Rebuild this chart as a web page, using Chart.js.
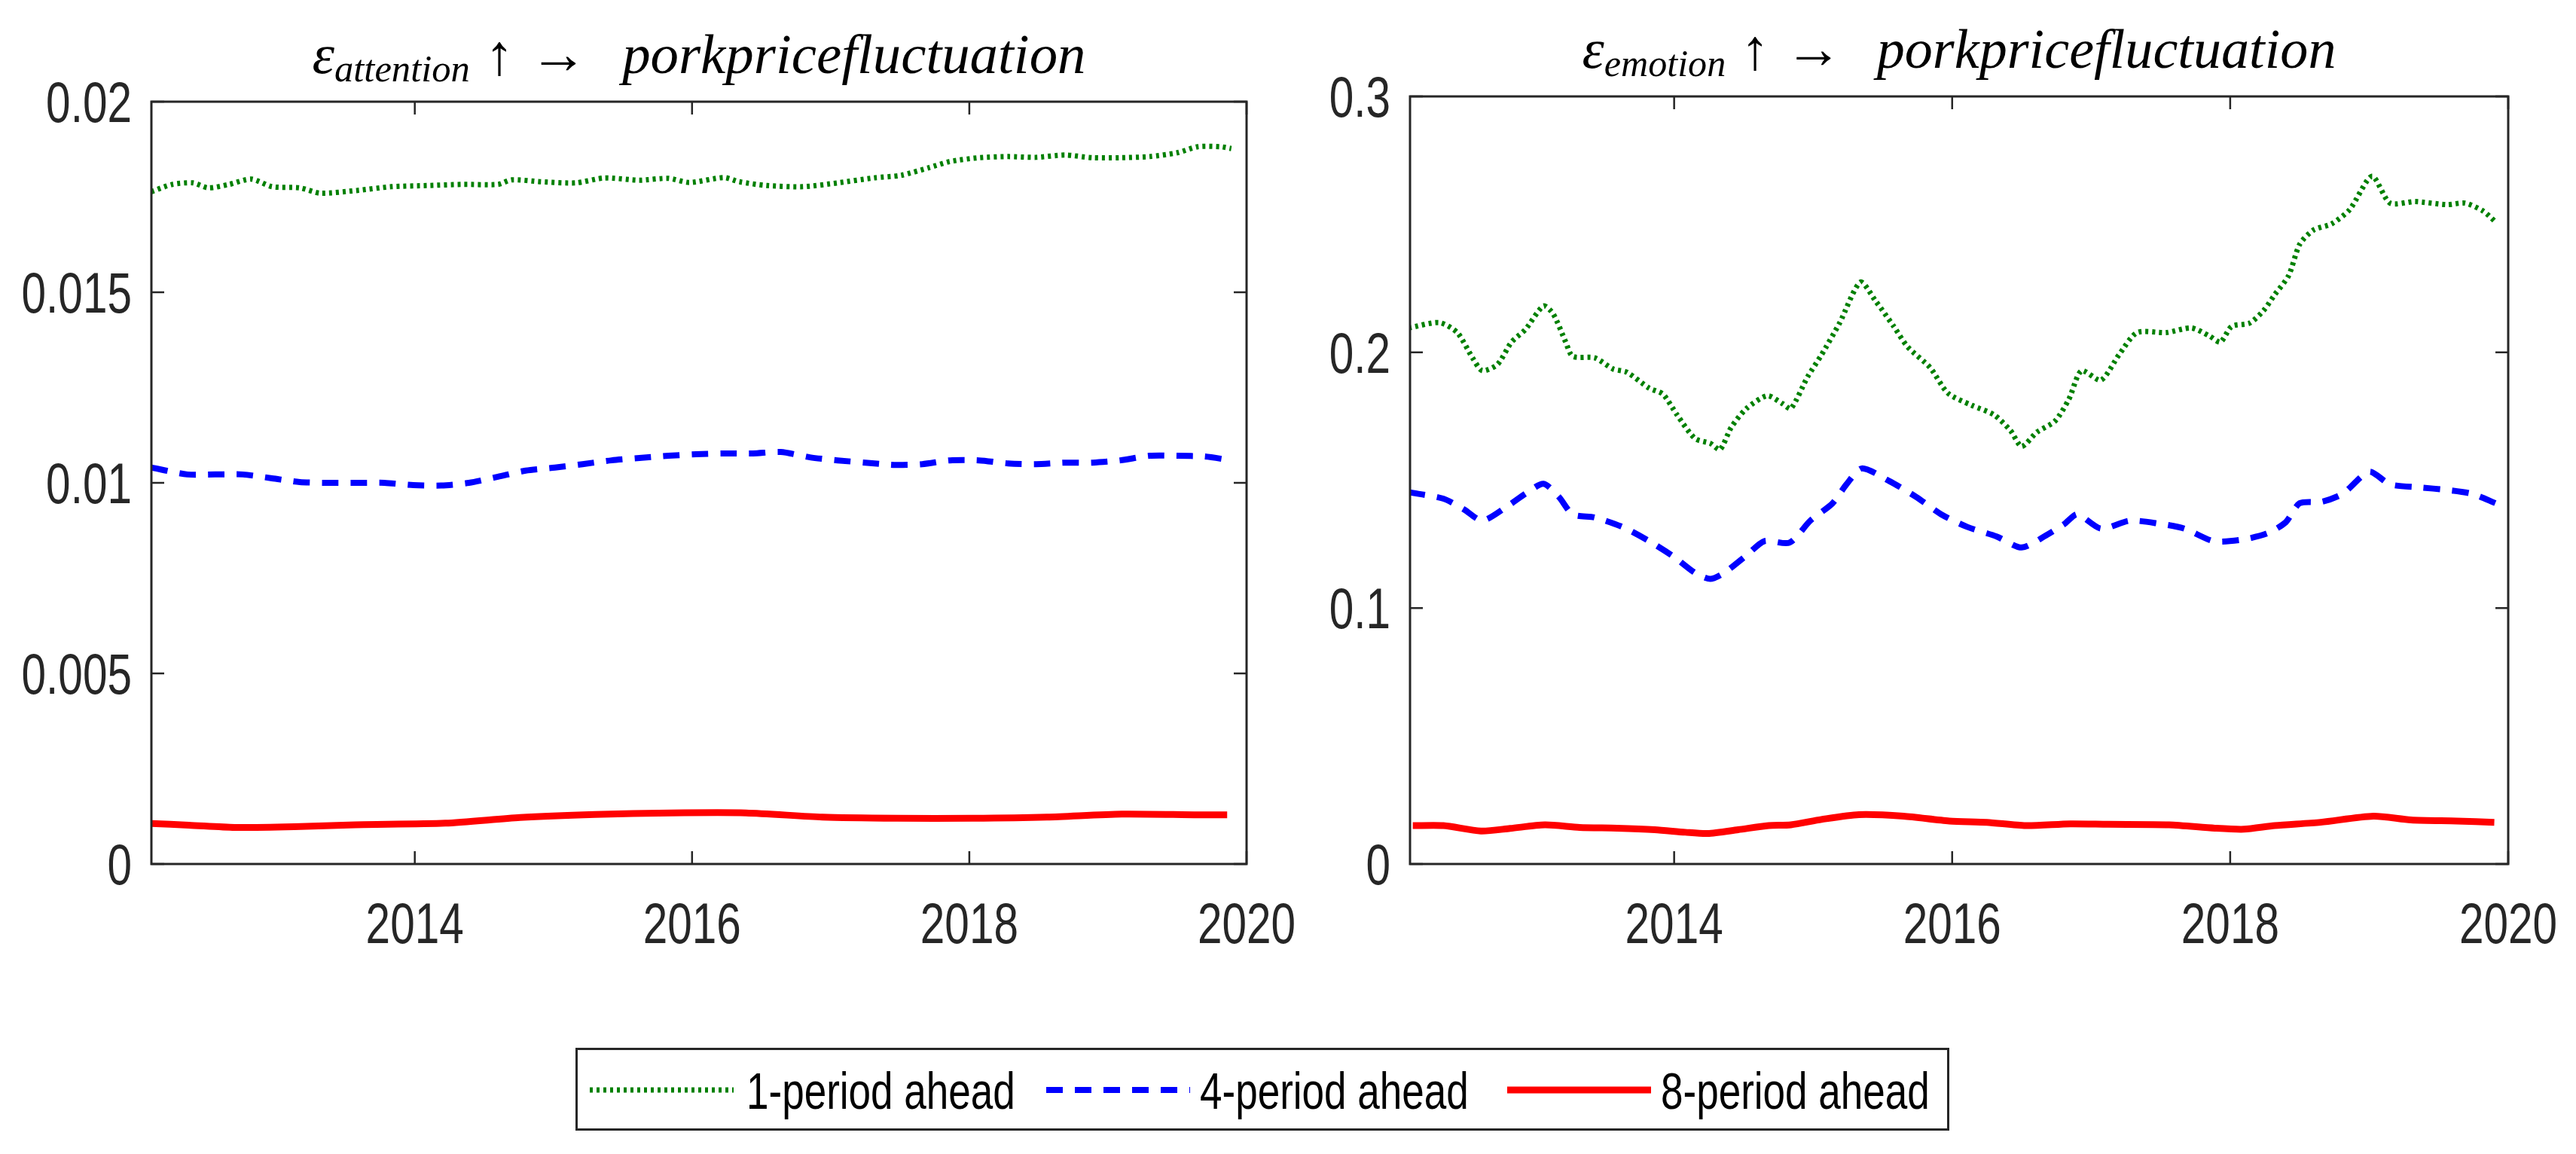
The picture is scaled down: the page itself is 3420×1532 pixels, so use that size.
<!DOCTYPE html>
<html>
<head>
<meta charset="utf-8">
<script src="https://cdn.jsdelivr.net/npm/chart.js@4.4.1/dist/chart.umd.min.js"></script>
<style>
  html, body { margin: 0; padding: 0; background: #fff; width: 3420px; height: 1532px; overflow: hidden; }
  canvas { position: absolute; top: 0; }
  #chartAttention { left: 0; }
  #chartEmotion { left: 1750px; }
  #legendBox { position: absolute; left: 764px; top: 1391px; width: 1824px; height: 110px;
               box-sizing: border-box; border: 3px solid #262626; background: #fff; }
  .lg-line { position: absolute; top: 1437px; }
  .lg-text { position: absolute; top: 1414px; font-family: "Liberation Sans", Arial, sans-serif;
             font-size: 68px; line-height: 68px; color: #000; white-space: nowrap;
             transform: scaleX(0.78); transform-origin: 0 0; }
</style>
</head>
<body>
<canvas id="chartAttention" width="1750" height="1300"></canvas>
<canvas id="chartEmotion" width="1670" height="1300"></canvas>
<div id="legendBox"></div>
<div id="legendItems"></div>
<script>
// ---- data ----
const seriesLabels = ['1-period ahead', '4-period ahead', '8-period ahead'];
const seriesColors = ['#008000', '#0000ff', '#ff0000'];

const xTickValues = [2014, 2016, 2018, 2020];
const xTickLabels = ['2014', '2016', '2018', '2020'];
const xMin = 2012.1, xMax = 2020;

const attnYTicks = [0, 0.005, 0.01, 0.015, 0.02];
const attnYLabels = ['0', '0.005', '0.01', '0.015', '0.02'];
const emoYTicks = [0, 0.1, 0.2, 0.3];
const emoYLabels = ['0', '0.1', '0.2', '0.3'];

// attention, 1-period ahead
const attnX1 = [2012.10, 2012.25, 2012.40, 2012.51, 2012.66, 2012.82, 2012.97, 2013.17, 2013.32, 2013.58,
                2013.83, 2014.09, 2014.35, 2014.60, 2014.70, 2014.91, 2015.16, 2015.37, 2015.62, 2015.83,
                2015.98, 2016.23, 2016.34, 2016.54, 2016.80, 2017.05, 2017.31, 2017.51, 2017.71, 2017.86,
                2018.07, 2018.28, 2018.48, 2018.69, 2018.89, 2019.09, 2019.30, 2019.50, 2019.65, 2019.81, 2019.89];
const attnY1 = [0.01764, 0.01783, 0.01787, 0.01774, 0.01783, 0.01797, 0.01777, 0.01774, 0.01760, 0.01767,
                0.01777, 0.01780, 0.01783, 0.01783, 0.01795, 0.01790, 0.01787, 0.01800, 0.01794, 0.01799,
                0.01788, 0.01801, 0.01790, 0.01780, 0.01777, 0.01787, 0.01800, 0.01807, 0.01827, 0.01843,
                0.01853, 0.01856, 0.01854, 0.01860, 0.01853, 0.01853, 0.01856, 0.01866, 0.01882, 0.01882, 0.01877];
// attention, 4-period ahead
const attnX4 = [2012.10, 2012.36, 2012.56, 2012.76, 2012.97, 2013.17, 2013.37, 2013.58, 2013.78, 2013.99,
                2014.19, 2014.39, 2014.60, 2014.80, 2015.01, 2015.21, 2015.42, 2015.62, 2015.83, 2016.03,
                2016.23, 2016.44, 2016.64, 2016.85, 2017.05, 2017.25, 2017.46, 2017.66, 2017.86, 2018.07,
                2018.28, 2018.48, 2018.69, 2018.89, 2019.09, 2019.30, 2019.50, 2019.70, 2019.89];
const attnY4 = [0.01040, 0.01022, 0.01022, 0.01022, 0.01012, 0.01002, 0.01000, 0.01000, 0.01000, 0.00994,
                0.00993, 0.01000, 0.01016, 0.01032, 0.01040, 0.01049, 0.01059, 0.01065, 0.01071, 0.01075,
                0.01077, 0.01077, 0.01081, 0.01067, 0.01059, 0.01053, 0.01047, 0.01049, 0.01059, 0.01059,
                0.01051, 0.01049, 0.01053, 0.01053, 0.01059, 0.01071, 0.01071, 0.01069, 0.01059];
// attention, 8-period ahead
const attnX8 = [2012.10, 2012.37, 2012.70, 2013.13, 2013.57, 2014.22, 2014.76, 2015.30, 2015.85, 2016.39,
                2016.94, 2017.48, 2018.02, 2018.56, 2019.10, 2019.65, 2019.86];
const attnY8 = [0.00106, 0.00102, 0.00096, 0.00098, 0.00103, 0.00107, 0.00122, 0.00130, 0.00134, 0.00134,
                0.00123, 0.00120, 0.00120, 0.00123, 0.00131, 0.00129, 0.00129];

// emotion, 1-period ahead
const emoX1 = [2012.09, 2012.31, 2012.44, 2012.55, 2012.62, 2012.73, 2012.83, 2012.93, 2013.06, 2013.13,
               2013.22, 2013.27, 2013.43, 2013.56, 2013.66, 2013.82, 2013.92, 2014.02, 2014.15, 2014.26,
               2014.33, 2014.41, 2014.52, 2014.67, 2014.78, 2014.84, 2014.96, 2015.06, 2015.19, 2015.34,
               2015.45, 2015.58, 2015.68, 2015.84, 2015.97, 2016.14, 2016.30, 2016.42, 2016.50, 2016.61,
               2016.74, 2016.84, 2016.93, 2017.07, 2017.20, 2017.33, 2017.54, 2017.72, 2017.85, 2017.93,
               2018.01, 2018.14, 2018.24, 2018.32, 2018.42, 2018.50, 2018.60, 2018.73, 2018.86, 2019.02,
               2019.15, 2019.33, 2019.56, 2019.69, 2019.82, 2019.91];
const emoY1 = [0.2095, 0.2116, 0.2077, 0.1978, 0.1928, 0.1953, 0.2040, 0.2089, 0.2181, 0.2150,
               0.2040, 0.1984, 0.1978, 0.1935, 0.1922, 0.1860, 0.1836, 0.1756, 0.1663, 0.1644,
               0.1620, 0.1706, 0.1780, 0.1830, 0.1799, 0.1780, 0.1904, 0.1990, 0.2114, 0.2274,
               0.2200, 0.2101, 0.2021, 0.1941, 0.1840, 0.1793, 0.1756, 0.1694, 0.1632, 0.1688,
               0.1731, 0.1817, 0.1928, 0.1891, 0.1990, 0.2077, 0.2077, 0.2095, 0.2064, 0.2040,
               0.2101, 0.2114, 0.2163, 0.2225, 0.2299, 0.2422, 0.2478, 0.2502, 0.2558, 0.2688,
               0.2583, 0.2589, 0.2577, 0.2583, 0.2552, 0.2509];
// emotion, 4-period ahead
const emoX4 = [2012.09, 2012.34, 2012.49, 2012.62, 2012.80, 2012.93, 2013.06, 2013.17, 2013.27, 2013.43,
               2013.63, 2013.82, 2014.00, 2014.15, 2014.26, 2014.36, 2014.52, 2014.65, 2014.83, 2014.98,
               2015.14, 2015.24, 2015.35, 2015.55, 2015.74, 2015.92, 2016.11, 2016.32, 2016.50, 2016.68,
               2016.81, 2016.90, 2017.07, 2017.28, 2017.49, 2017.67, 2017.88, 2018.09, 2018.27, 2018.40,
               2018.50, 2018.66, 2018.81, 2019.00, 2019.15, 2019.36, 2019.56, 2019.74, 2019.91];
const emoY4 = [0.1453, 0.1428, 0.1385, 0.1342, 0.1398, 0.1447, 0.1486, 0.1435, 0.1367, 0.1354,
               0.1317, 0.1262, 0.1200, 0.1138, 0.1114, 0.1138, 0.1206, 0.1262, 0.1256, 0.1342,
               0.1410, 0.1484, 0.1546, 0.1496, 0.1435, 0.1367, 0.1317, 0.1280, 0.1237, 0.1286,
               0.1330, 0.1367, 0.1311, 0.1342, 0.1330, 0.1311, 0.1262, 0.1268, 0.1293, 0.1336,
               0.1410, 0.1416, 0.1447, 0.1533, 0.1484, 0.1472, 0.1462, 0.1447, 0.1410];
// emotion, 8-period ahead
const emoX8 = [2012.12, 2012.34, 2012.61, 2012.82, 2013.07, 2013.32, 2013.59, 2013.86, 2014.08, 2014.24,
               2014.46, 2014.68, 2014.84, 2015.06, 2015.33, 2015.65, 2015.98, 2016.25, 2016.53, 2016.85,
               2017.12, 2017.56, 2017.89, 2018.10, 2018.32, 2018.65, 2019.03, 2019.30, 2019.63, 2019.90];
const emoY8 = [0.0150, 0.0150, 0.0129, 0.0139, 0.0153, 0.0143, 0.0140, 0.0134, 0.0124, 0.0119,
               0.0134, 0.0150, 0.0153, 0.0174, 0.0193, 0.0187, 0.0168, 0.0163, 0.0150, 0.0157,
               0.0155, 0.0153, 0.0140, 0.0136, 0.0150, 0.0163, 0.0187, 0.0172, 0.0168, 0.0163];

// ---- styling ----
const axisColor = '#262626';
const tickFont = '76px "Liberation Sans", Arial, sans-serif';
const tickSquash = 0.77;   // the tick labels in the figure are horizontally condensed
const lineStyles = [
  { width: 7, dash: [4, 5] },
  { width: 8, dash: [22, 16] },
  { width: 9, dash: [] }
];

const pairUp = (xs, ys) => xs.map((x, i) => ({ x: x, y: ys[i] }));

// box around the plot, inward MATLAB style ticks and condensed tick labels
const boxPlugin = {
  id: 'matBox',
  afterDraw(chart, args, opts) {
    const { ctx, chartArea: a, scales: { x, y } } = chart;
    const L = 17;
    ctx.save();
    ctx.strokeStyle = axisColor;
    ctx.lineWidth = 2.5;
    ctx.beginPath();
    x.ticks.forEach(t => {
      const px = x.getPixelForValue(t.value);
      ctx.moveTo(px, a.bottom); ctx.lineTo(px, a.bottom - L);
      ctx.moveTo(px, a.top); ctx.lineTo(px, a.top + L);
    });
    y.ticks.forEach(t => {
      const py = y.getPixelForValue(t.value);
      ctx.moveTo(a.left, py); ctx.lineTo(a.left + L, py);
      ctx.moveTo(a.right, py); ctx.lineTo(a.right - L, py);
    });
    ctx.stroke();
    ctx.lineWidth = 3;
    ctx.strokeRect(a.left, a.top, a.right - a.left, a.bottom - a.top);

    ctx.fillStyle = axisColor;
    ctx.font = tickFont;
    ctx.textBaseline = 'alphabetic';
    x.ticks.forEach((t, i) => {
      const px = x.getPixelForValue(t.value);
      ctx.save();
      ctx.translate(px, a.bottom + 105);
      ctx.scale(tickSquash, 1);
      ctx.textAlign = 'center';
      ctx.fillText(xTickLabels[i], 0, 0);
      ctx.restore();
    });
    y.ticks.forEach((t, i) => {
      const py = y.getPixelForValue(t.value);
      ctx.save();
      ctx.translate(a.left - 26, py + 27);
      ctx.scale(tickSquash, 1);
      ctx.textAlign = 'right';
      ctx.fillText(opts.yLabels[i], 0, 0);
      ctx.restore();
    });
    ctx.restore();
  }
};

// title with subscript: eps_sub ↑→ porkpricefluctuation
const titlePlugin = {
  id: 'mathTitle',
  afterDraw(chart, args, opts) {
    const { ctx, chartArea: a } = chart;
    const serif = '"Liberation Serif", "DejaVu Serif", serif';
    const parts = [
      { t: 'ε', font: `italic 74px ${serif}`, dy: 0, gap: 0 },
      { t: opts.sub, font: `italic 50px ${serif}`, dy: 11, gap: 0 },
      { t: '↑', font: `76px ${serif}`, dy: 2, gap: 20 },
      { t: '→', font: `76px ${serif}`, dy: 0, gap: 20 },
      { t: 'porkpricefluctuation', font: `italic 74px ${serif}`, dy: 0, gap: 46 }
    ];
    ctx.save();
    let total = 0;
    parts.forEach(p => { ctx.font = p.font; p.w = ctx.measureText(p.t).width; total += p.gap + p.w; });
    const sx = opts.width / total;
    const cx = (a.left + a.right) / 2;
    ctx.translate(cx - opts.width / 2, opts.baseline);
    ctx.scale(sx, 1);
    ctx.fillStyle = '#000';
    ctx.textBaseline = 'alphabetic';
    let xPos = 0;
    parts.forEach(p => {
      xPos += p.gap;
      ctx.font = p.font;
      ctx.fillText(p.t, xPos, p.dy);
      xPos += p.w;
    });
    ctx.restore();
  }
};

function makeChart(id, cfg) {
  const datasets = cfg.series.map((s, i) => ({
    label: seriesLabels[i],
    data: pairUp(s[0], s[1]),
    borderColor: seriesColors[i],
    borderWidth: lineStyles[i].width,
    borderDash: lineStyles[i].dash,
    borderCapStyle: 'butt',
    pointRadius: 0,
    tension: 0.25,
    fill: false
  }));
  return new Chart(document.getElementById(id), {
    type: 'line',
    data: { datasets: datasets },
    options: {
      responsive: false,
      animation: false,
      devicePixelRatio: 1,
      layout: { padding: { top: cfg.top, right: cfg.right, left: 0, bottom: 0 } },
      plugins: {
        legend: { display: false },
        tooltip: { enabled: false },
        matBox: { yLabels: cfg.yLabels },
        mathTitle: { sub: cfg.sub, width: cfg.titleWidth, baseline: cfg.titleBaseline }
      },
      scales: {
        x: {
          type: 'linear', min: xMin, max: xMax,
          grid: { display: false, drawTicks: false },
          border: { display: false },
          afterBuildTicks: s => { s.ticks = xTickValues.map(v => ({ value: v })); },
          afterFit: s => { s.height = 1300 - cfg.bottom; },
          ticks: { display: false }
        },
        y: {
          type: 'linear', min: cfg.yTicks[0], max: cfg.yTicks[cfg.yTicks.length - 1],
          grid: { display: false, drawTicks: false },
          border: { display: false },
          afterBuildTicks: s => { s.ticks = cfg.yTicks.map(v => ({ value: v })); },
          afterFit: s => { s.width = cfg.left; },
          ticks: { display: false }
        }
      }
    },
    plugins: [boxPlugin, titlePlugin]
  });
}

makeChart('chartAttention', {
  series: [[attnX1, attnY1], [attnX4, attnY4], [attnX8, attnY8]],
  yTicks: attnYTicks, yLabels: attnYLabels,
  sub: 'attention', titleWidth: 1027, titleBaseline: 97,
  top: 135, right: 95, left: 201, bottom: 1147
});

makeChart('chartEmotion', {
  series: [[emoX1, emoY1], [emoX4, emoY4], [emoX8, emoY8]],
  yTicks: emoYTicks, yLabels: emoYLabels,
  sub: 'emotion', titleWidth: 1001, titleBaseline: 90,
  top: 128, right: 90, left: 122, bottom: 1147
});

// shared legend below both panels
const legendItems = document.getElementById('legendItems');
const legendLineX = [783, 1389, 2001];
const legendTextX = [991, 1593, 2205];
seriesLabels.forEach((lab, i) => {
  const svgNS = 'http://www.w3.org/2000/svg';
  const svg = document.createElementNS(svgNS, 'svg');
  svg.setAttribute('width', '191');
  svg.setAttribute('height', '20');
  svg.setAttribute('class', 'lg-line');
  svg.style.left = legendLineX[i] + 'px';
  const ln = document.createElementNS(svgNS, 'line');
  ln.setAttribute('x1', '0'); ln.setAttribute('x2', '191');
  ln.setAttribute('y1', '10'); ln.setAttribute('y2', '10');
  ln.setAttribute('stroke', seriesColors[i]);
  ln.setAttribute('stroke-width', String(lineStyles[i].width));
  if (lineStyles[i].dash.length) ln.setAttribute('stroke-dasharray', lineStyles[i].dash.join(' '));
  svg.appendChild(ln);
  legendItems.appendChild(svg);
  const txt = document.createElement('div');
  txt.className = 'lg-text';
  txt.style.left = legendTextX[i] + 'px';
  txt.textContent = lab;
  legendItems.appendChild(txt);
});
</script>
</body>
</html>
